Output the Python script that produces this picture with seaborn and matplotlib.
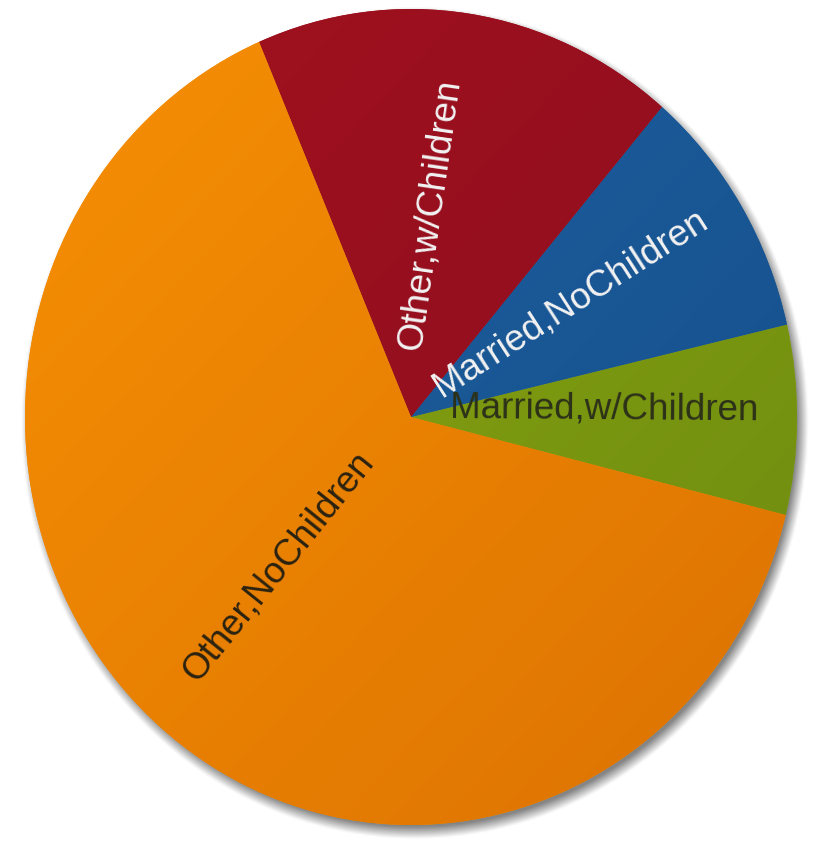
import numpy as np
import matplotlib
matplotlib.use("Agg")
import matplotlib.pyplot as plt
import seaborn as sns
from matplotlib.colors import to_rgb

sns.set_theme(style="white")
plt.rcParams['font.family'] = ['Liberation Sans', 'DejaVu Sans']

# Household composition shares (percent), drawn counter-clockwise
categories = ["Married,w/Children", "Married,NoChildren", "Other,w/Children", "Other,NoChildren"]
shares = [7.5, 10.1, 17.7, 64.7]
light_colors = ["#8fab12", "#1f62a5", "#a3111f", "#f79004"]
dark_colors = ["#6c8910", "#144d87", "#870d1d", "#dc7202"]
label_colors = ["#2c3118", "#f2f2f2", "#f2f2f2", "#2a2210"]
START_ANGLE = -13.9

W, H = 817, 845
fig = plt.figure(figsize=(W / 100, H / 100), dpi=100)
ax = fig.add_axes([0, 0, 1, 1])

# pixel geometry of the (slightly oval) pie
cx_px, cy_px = 411, H - 418
rx_px, ry_px = 386, 408

wedges, _ = ax.pie(shares, startangle=START_ANGLE, counterclock=True,
                   colors=light_colors, wedgeprops=dict(linewidth=0))
for w in wedges:
    w.set_zorder(2)

# soft drop shadow under the disc
n = 500
gx, gy = np.meshgrid(np.linspace(-1.12, 1.12, n), np.linspace(-1.12, 1.12, n))
sx, sy = 4 / rx_px, -6 / ry_px
d = np.sqrt(((gx - sx) / 1.006) ** 2 + ((gy - sy) / 1.006) ** 2)
soft = 0.03
alpha = np.clip((1 - d) / soft + 0.5, 0, 1) * 0.8
shadow = np.zeros((n, n, 4))
shadow[..., :3] = to_rgb("#666666")
shadow[..., 3] = alpha
ax.imshow(shadow, extent=(-1.12, 1.12, -1.12, 1.12), origin="lower",
          aspect="auto", zorder=0, interpolation="bilinear")

# light-to-dark diagonal shading inside each slice
t = np.clip((gx - gy + 2) / 4, 0, 1)[..., None]
for w, c0, c1 in zip(wedges, light_colors, dark_colors):
    a, b = np.array(to_rgb(c0)), np.array(to_rgb(c1))
    img = a + (b - a) * t
    im = ax.imshow(img, extent=(-1.12, 1.12, -1.12, 1.12), origin="lower",
                   aspect="auto", zorder=3, interpolation="bilinear")
    im.set_clip_path(w)

ax.set_aspect("auto")
ax.set_xlim(-cx_px / rx_px, (W - cx_px) / rx_px)
ax.set_ylim(-cy_px / ry_px, (H - cy_px) / ry_px)
ax.axis("off")

# radial labels at half the radius, nudged slightly to the text's upper side
lift_px = 10
for w, name, col in zip(wedges, categories, label_colors):
    mid = np.deg2rad((w.theta1 + w.theta2) / 2)
    x, y = 0.5 * np.cos(mid), 0.5 * np.sin(mid)
    rot = np.degrees(np.arctan2(ry_px * np.sin(mid), rx_px * np.cos(mid)))
    if np.cos(mid) < 0:
        rot += 180
    r = np.deg2rad(rot)
    x += -np.sin(r) * lift_px / rx_px
    y += np.cos(r) * lift_px / ry_px
    ax.text(x, y, name, ha="center", va="center", rotation=rot,
            rotation_mode="anchor", fontsize=26.5, color=col, zorder=5)

fig.savefig("out.png", dpi=100, facecolor="white")
